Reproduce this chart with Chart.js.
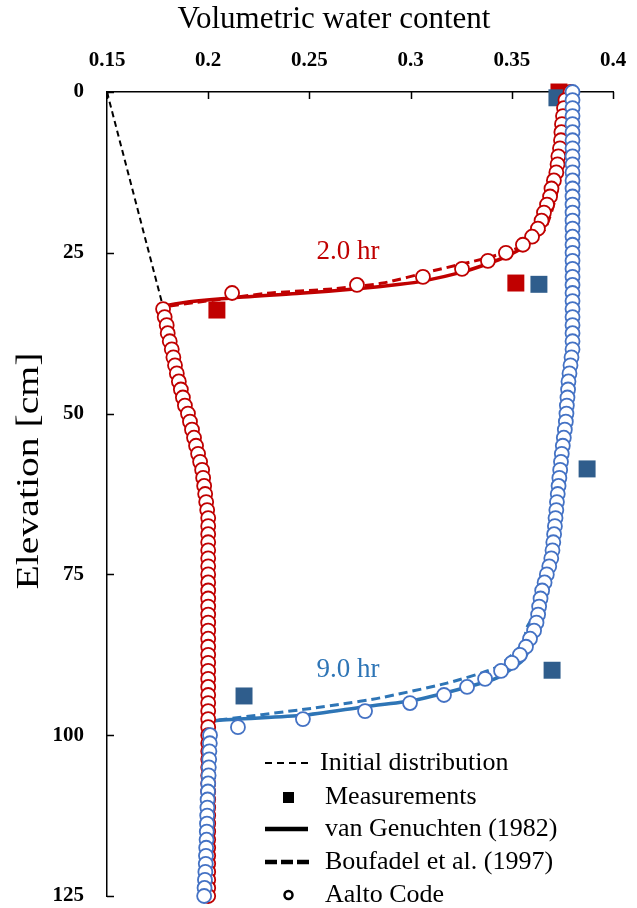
<!DOCTYPE html>
<html>
<head>
<meta charset="utf-8">
<script src="https://cdn.jsdelivr.net/npm/chart.js@4.4.1/dist/chart.umd.min.js"></script>
<style>
  body { margin: 0; background: #fff; }
  #wrap { width: 637px; height: 908px; }
</style>
</head>
<body>
<div id="wrap"><canvas id="chart" width="637" height="908"></canvas></div>
<script>
// tick labels
const xTickLabels = ['0.15', '0.2', '0.25', '0.3', '0.35', '0.4'];
const yTickLabels = ['0', '25', '50', '75', '100', '125'];

// model nodes (elevation, cm) used by the Aalto code
const nodeDepth = [
  0, 1.25, 2.5, 3.75, 5, 6.25, 7.5, 8.75, 10, 11.25,
  12.5, 13.75, 15, 16.25, 17.5, 18.75, 20, 21.25, 22.5, 23.75,
  25, 26.25, 27.5, 28.75, 30, 31.25, 32.5, 33.75, 35, 36.25,
  37.5, 38.75, 40, 41.25, 42.5, 43.75, 45, 46.25, 47.5, 48.75,
  50, 51.25, 52.5, 53.75, 55, 56.25, 57.5, 58.75, 60, 61.25,
  62.5, 63.75, 65, 66.25, 67.5, 68.75, 70, 71.25, 72.5, 73.75,
  75, 76.25, 77.5, 78.75, 80, 81.25, 82.5, 83.75, 85, 86.25,
  87.5, 88.75, 90, 91.25, 92.5, 93.75, 95, 96.25, 97.5, 98.75,
  100, 101.25, 102.5, 103.75, 105, 106.25, 107.5, 108.75, 110, 111.25,
  112.5, 113.75, 115, 116.25, 117.5, 118.75, 120, 121.25, 122.5, 123.75,
  125
];

// Aalto code, 2.0 hr
const aalto2h = [
  0.379, 0.3765, 0.3758, 0.3753, 0.3748, 0.3745, 0.3743, 0.3738, 0.373, 0.3726,
  0.372, 0.3708, 0.3696, 0.3689, 0.3674, 0.3659, 0.3647, 0.3629, 0.360, 0.3555,
  0.3471, 0.3382, 0.3254, 0.3061, 0.2735, 0.2118, null, 0.1777, 0.1785, 0.1795,
  0.180, 0.181, 0.182, 0.1828, 0.1836, 0.1845, 0.1855, 0.1865, 0.1875, 0.1885,
  0.190, 0.191, 0.192, 0.193, 0.194, 0.195, 0.196, 0.197, 0.1975, 0.198,
  0.1985, 0.199, 0.1995, 0.200, 0.200, 0.200, 0.200, 0.200, 0.200, 0.200,
  0.200, 0.200, 0.200, 0.200, 0.200, 0.200, 0.200, 0.200, 0.200, 0.200,
  0.200, 0.200, 0.200, 0.200, 0.200, 0.200, 0.200, 0.200, 0.200, 0.200,
  0.200, 0.200, 0.200, 0.200, 0.200, 0.200, 0.200, 0.200, 0.200, 0.200,
  0.200, 0.200, 0.200, 0.200, 0.200, 0.200, 0.200, 0.200, 0.200, 0.200,
  0.200
];

// Aalto code, 9.0 hr
const aalto9h = [
  0.380, 0.380, 0.380, 0.380, 0.380, 0.380, 0.380, 0.380, 0.380, 0.380,
  0.380, 0.380, 0.380, 0.380, 0.380, 0.380, 0.380, 0.380, 0.380, 0.380,
  0.380, 0.380, 0.380, 0.380, 0.380, 0.380, 0.380, 0.380, 0.380, 0.380,
  0.380, 0.380, 0.380, 0.3795, 0.379, 0.3785, 0.378, 0.3778, 0.3775, 0.3772,
  0.377, 0.3767, 0.3762, 0.3757, 0.3752, 0.3747, 0.3743, 0.3739, 0.3735, 0.3731,
  0.3727, 0.3723, 0.372, 0.3716, 0.3713, 0.3709, 0.3705, 0.3701, 0.3695, 0.3685,
  0.3673, 0.3662, 0.365, 0.3642, 0.3635, 0.363, 0.3622, 0.361, 0.359, 0.357,
  0.354, 0.350, 0.3447, 0.3368, 0.3279, 0.3165, 0.2997, 0.2775, 0.2468, 0.2147,
  0.2009, 0.2008, 0.2006, 0.2005, 0.2003, 0.2002, 0.200, 0.1999, 0.1997, 0.1996,
  0.1995, 0.1994, 0.1993, 0.1992, 0.199, 0.1989, 0.1988, 0.1986, 0.1984, 0.1982,
  0.198
];

// van Genuchten (1982)
const vg2hX = [0.3773, 0.3763, 0.3738, 0.3704, 0.3674, 0.362, 0.3555, 0.3471, 0.3382, 0.3254, 0.3061, 0.2948, 0.2735, 0.2454, 0.2123, 0.1777, 0.180, 0.1835, 0.190, 0.1985, 0.2005, 0.2005, 0.2015];
const vg2hY = [0, 1.2, 9.0, 16.8, 19.5, 22.5, 24.2, 25.6, 26.7, 28.0, 29.4, 29.9, 30.6, 31.3, 32.0, 33.4, 37, 42.5, 50, 60, 70, 100, 125];
const vg9hX = [0.380, 0.380, 0.3785, 0.377, 0.3752, 0.3735, 0.372, 0.3705, 0.3673, 0.3635, 0.3605, 0.3555, 0.3427, 0.3259, 0.3012, 0.2765, 0.2468, 0.2043, 0.2009, 0.200, 0.1985];
const vg9hY = [0, 40, 45, 50, 55, 60, 65, 70, 75, 80, 85.2, 88.3, 91.1, 92.7, 94.6, 95.6, 96.9, 97.7, 98.2, 100, 125];

// Boufadel et al. (1997)
const bf2hX = [0.378, 0.376, 0.372, 0.366, 0.355, 0.3377, 0.311, 0.2864, 0.2617, 0.229, 0.1945, 0.1777];
const bf2hY = [0, 8, 16, 21.5, 24.0, 25.8, 27.8, 29.7, 30.6, 31.3, 32.7, 33.4];
const bf9hX = [0.380, 0.380, 0.3785, 0.377, 0.3752, 0.3735, 0.372, 0.3705, 0.3673, 0.3635, 0.3575, 0.3555, 0.3427, 0.318, 0.2849, 0.2651, 0.2518, 0.2009];
const bf9hY = [0, 40, 45, 50, 55, 60, 65, 70, 75, 80, 83.2, 85.7, 89.4, 91.9, 94.2, 95.2, 95.8, 97.8];

// initial distribution
const initX = [0.15, 0.1777];
const initY = [0, 33.4];

// measurements
const meas2hX = [0.3733, 0.352, 0.2043];
const meas2hY = [0, 29.7, 33.9];
const meas9hX = [0.3723, 0.3634, 0.3872, 0.3699, 0.2177];
const meas9hY = [0.9, 29.9, 58.6, 89.9, 93.9];

const RED = '#C00000';
const BLUE_LINE = '#2E75B6';
const BLUE_CIRCLE = '#4472C4';
const BLUE_SQUARE = '#2F5D8C';
const SERIF = '"Liberation Serif", "Times New Roman", serif';

const pts = (xs, ys) => xs.map((x, i) => ({ x: x, y: ys[i] }));

const lineSet = (data, color, width, dash, order, tension) => ({
    data: data,
    showLine: true,
    borderColor: color,
    borderWidth: width,
    borderDash: dash,
    pointRadius: 0,
    tension: tension,
    borderJoinStyle: 'round',
    order: order,
    clip: false
});

const dotSet = (data, color, order) => ({
    data: data,
    showLine: false,
    pointRadius: 7,
    pointBorderWidth: 1.8,
    pointBorderColor: color,
    pointBackgroundColor: '#fff',
    order: order,
    clip: false
});

const squareSet = (data, color, order) => ({
    data: data,
    showLine: false,
    pointStyle: 'rect',
    pointRadius: 12,
    pointBorderWidth: 0,
    pointBackgroundColor: color,
    pointBorderColor: color,
    order: order,
    clip: false
});

// tick marks pointing into the plot, titles, curve labels and legend
const extras = {
    id: 'extras',
    beforeDatasetsDraw(chart) {
        const { ctx, chartArea, scales } = chart;
        ctx.save();
        ctx.strokeStyle = '#000';
        ctx.lineWidth = 1.5;
        ctx.beginPath();
        scales.x.ticks.forEach(t => {
            const px = Math.round(scales.x.getPixelForValue(t.value)) + 0.5;
            ctx.moveTo(px, chartArea.top);
            ctx.lineTo(px, chartArea.top + 7);
        });
        scales.y.ticks.forEach(t => {
            const py = Math.round(scales.y.getPixelForValue(t.value)) + 0.5;
            ctx.moveTo(chartArea.left, py);
            ctx.lineTo(chartArea.left + 7, py);
        });
        ctx.stroke();
        ctx.restore();
    },
    afterDraw(chart) {
        const { ctx } = chart;
        ctx.save();
        ctx.textBaseline = 'middle';

        // axis titles
        ctx.fillStyle = '#000';
        ctx.textAlign = 'center';
        ctx.font = '31px ' + SERIF;
        ctx.fillText('Volumetric water content', 334, 20);
        ctx.save();
        ctx.translate(30, 471);
        ctx.rotate(-Math.PI / 2);
        ctx.scale(1.28, 1);
        ctx.fillText('Elevation [cm]', 0, 0);
        ctx.restore();

        // curve labels
        ctx.font = '27px ' + SERIF;
        ctx.fillStyle = RED;
        ctx.fillText('2.0 hr', 348, 252);
        ctx.fillStyle = BLUE_LINE;
        ctx.fillText('9.0 hr', 348, 670);

        // legend
        ctx.fillStyle = '#000';
        ctx.strokeStyle = '#000';
        ctx.textAlign = 'left';
        ctx.font = '26px ' + SERIF;
        const rows = [763, 797, 829, 862, 895];

        ctx.lineWidth = 2;
        ctx.setLineDash([7, 5]);
        ctx.beginPath(); ctx.moveTo(265, rows[0]); ctx.lineTo(308, rows[0]); ctx.stroke();
        ctx.fillText('Initial distribution', 320, rows[0]);

        ctx.setLineDash([]);
        ctx.fillRect(283, rows[1] - 5, 11, 11);
        ctx.fillText('Measurements', 325, rows[1]);

        ctx.lineWidth = 4.5;
        ctx.beginPath(); ctx.moveTo(265, rows[2]); ctx.lineTo(308, rows[2]); ctx.stroke();
        ctx.fillText('van Genuchten (1982)', 325, rows[2]);

        ctx.setLineDash([12, 4]);
        ctx.beginPath(); ctx.moveTo(265, rows[3]); ctx.lineTo(309, rows[3]); ctx.stroke();
        ctx.fillText('Boufadel et al. (1997)', 325, rows[3]);

        ctx.setLineDash([]);
        ctx.lineWidth = 2.5;
        ctx.beginPath(); ctx.arc(288.5, rows[4], 4, 0, Math.PI * 2);
        ctx.fillStyle = '#fff'; ctx.fill(); ctx.stroke();
        ctx.fillStyle = '#000';
        ctx.fillText('Aalto Code', 325, rows[4]);

        ctx.restore();
    }
};

new Chart(document.getElementById('chart'), {
    type: 'scatter',
    data: {
        datasets: [
            dotSet(pts(aalto9h, nodeDepth), BLUE_CIRCLE, 0),
            dotSet(pts(aalto2h, nodeDepth), RED, 1),
            squareSet(pts(meas9hX, meas9hY), BLUE_SQUARE, 2),
            squareSet(pts(meas2hX, meas2hY), RED, 3),
            lineSet(pts(vg9hX, vg9hY), BLUE_LINE, 3.5, [], 4, 0.2),
            lineSet(pts(bf9hX, bf9hY), BLUE_LINE, 3, [9, 5], 5, 0.2),
            lineSet(pts(vg2hX, vg2hY), RED, 3.5, [], 6, 0.2),
            lineSet(pts(bf2hX, bf2hY), RED, 3, [9, 5], 7, 0.2),
            lineSet(pts(initX, initY), '#000', 2, [6, 4], 8, 0)
        ]
    },
    options: {
        responsive: false,
        devicePixelRatio: 1,
        animation: false,
        layout: { padding: { left: 0, top: 0, right: 24, bottom: 12 } },
        plugins: {
            legend: { display: false },
            tooltip: { enabled: false }
        },
        scales: {
            x: {
                type: 'linear',
                position: 'top',
                min: 0.15,
                max: 0.4,
                // tick marks are drawn by the plugin; tickLength only spaces the labels
                grid: { display: false, drawTicks: true, tickLength: 19 },
                border: { display: true, color: '#000', width: 1.5 },
                ticks: {
                    stepSize: 0.05,
                    padding: 0,
                    color: '#000',
                    font: { family: SERIF, size: 21, weight: 'bold' },
                    callback: v => xTickLabels.find(l => Math.abs(+l - v) < 1e-6) || ''
                },
                afterFit: s => { s.height = 92; }
            },
            y: {
                type: 'linear',
                reverse: true,
                min: 0,
                max: 125,
                grid: { display: false, drawTicks: true, tickLength: 23 },
                border: { display: true, color: '#000', width: 1.5 },
                ticks: {
                    stepSize: 25,
                    padding: 0,
                    color: '#000',
                    font: { family: SERIF, size: 21, weight: 'bold', lineHeight: 1 },
                    callback: v => yTickLabels.find(l => Math.abs(+l - v) < 1e-6) || ''
                },
                afterFit: s => { s.width = 107; }
            }
        }
    },
    plugins: [extras]
});
</script>
</body>
</html>
